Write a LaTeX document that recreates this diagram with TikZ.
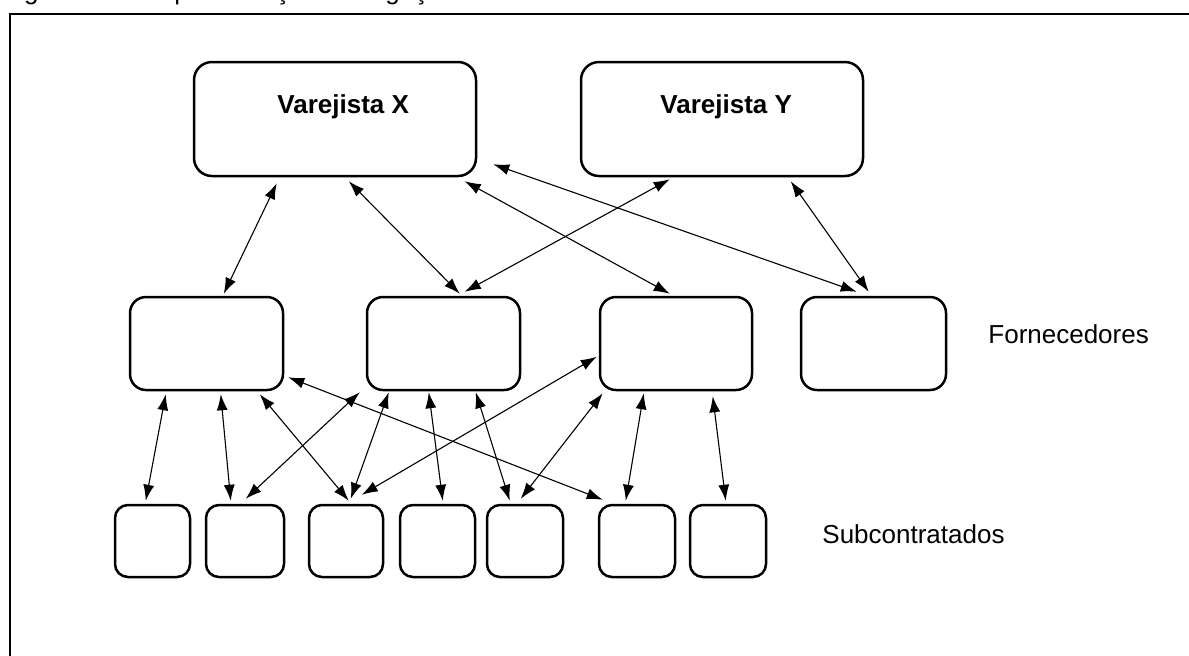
\documentclass[tikz,border=0pt]{standalone}
\usepackage{fontspec}
\setmainfont{Liberation Sans}
\usetikzlibrary{arrows.meta,calc}
\begin{document}
\begin{tikzpicture}[x=0.5pt,y=-0.5pt,
  box/.style={draw, line width=1.25pt, rounded corners=9pt, inner sep=0pt},
  fbox/.style={box, rounded corners=8pt, minimum height=46.5pt},
  sbox/.style={box, rounded corners=6.5pt, minimum height=36pt},
  link/.style={line width=0.55pt, {Latex[length=8pt,width=5.5pt]}-{Latex[length=8pt,width=5.5pt]}},
  lbl/.style={font=\fontsize{13}{15}\selectfont, anchor=base west, inner sep=0pt},
  blbl/.style={lbl, font=\fontsize{13}{15}\selectfont\bfseries}]
\useasboundingbox (0,0) rectangle (1189,655);
% caption (cut off at the top)
\node[lbl] (cap) at (2,-1) {Figura 13 – Representação das ligações da cadeia de fornecimento};
% frame
\coordinate (fbl) at (10,660);
\coordinate (ftl) at (10,14);
\coordinate (ftr) at (1195,14);
\draw[line width=1.3pt] (fbl) -- (ftl) -- (ftr);
% retailers
\node[box, minimum width=141pt, minimum height=57pt] (X) at (335,119) {};
\node[box, minimum width=141pt, minimum height=57pt] (Y) at (722,119) {};
\node[blbl] (Xt) at (277,113) {Varejista X};
\node[blbl] (Yt) at (660,113) {Varejista Y};
% suppliers
\node[fbox, minimum width=76.5pt] (F1) at (206.5,343.5) {};
\node[fbox, minimum width=76.5pt] (F2) at (443.5,343.5) {};
\node[fbox, minimum width=76pt] (F3) at (676,343.5) {};
\node[fbox, minimum width=72.5pt] (F4) at (873.5,343.5) {};
\node[lbl] (Fl) at (988,343) {Fornecedores};
% subcontractors
\node[sbox, minimum width=37.5pt] (S1) at (152.5,541) {};
\node[sbox, minimum width=39pt] (S2) at (245,541) {};
\node[sbox, minimum width=37pt] (S3) at (346,541) {};
\node[sbox, minimum width=37.5pt] (S4) at (437.5,541) {};
\node[sbox, minimum width=38pt] (S5) at (525,541) {};
\node[sbox, minimum width=38pt] (S6) at (637,541) {};
\node[sbox, minimum width=38pt] (S7) at (728,541) {};
\node[lbl] (Sl) at (822,543) {Subcontratados};
% retailer - supplier links
\draw[link] ($(X.south west)+(84,6)$) -- ($(F1.north west)+(95,-2)$);
\draw[link] ($(X.south west)+(156,4)$) -- ($(F2.north west)+(94,-2)$);
\draw[link] ($(X.south west)+(272,4)$) -- ($(F3.north west)+(71,-2)$);
\draw[link] ($(X.south east)+(16,-13)$) -- ($(F4.north west)+(57,-4)$);
\draw[link] ($(Y.south west)+(90,2)$) -- ($(F2.north west)+(99,-4)$);
\draw[link] ($(Y.south west)+(211,4)$) -- ($(F4.north west)+(69,-4)$);
% supplier - subcontractor links
\draw[link] ($(F1.south west)+(37,3)$) -- ($(S1.north west)+(32,-3)$);
\draw[link] ($(F1.south west)+(92,3)$) -- ($(S2.north west)+(26,-3)$);
\draw[link] ($(F1.south west)+(131,3)$) -- ($(S3.north west)+(41,-3)$);
\draw[link] ($(F1.south east)+(4,-14)$) -- ($(S6.north west)+(5,-4)$);
\draw[link] ($(F2.south west)+(-6,1)$) -- ($(S2.north west)+(41,-5)$);
\draw[link] ($(F2.south west)+(23,1)$) -- ($(S3.north west)+(43,-5)$);
\draw[link] ($(F2.south west)+(63,1)$) -- ($(S4.north west)+(44,-3)$);
\draw[link] ($(F2.south west)+(110,1)$) -- ($(S5.north west)+(24,-3)$);
\draw[link] ($(F3.north west)+(-2,61)$) -- ($(S3.north west)+(54,-9)$);
\draw[link] ($(F3.south west)+(4,2)$) -- ($(S5.north west)+(35,-5)$);
\draw[link] ($(F3.south west)+(45,2)$) -- ($(S6.north west)+(28,-3)$);
\draw[link] ($(F3.south west)+(114,5)$) -- ($(S7.north west)+(37,-3)$);
\end{tikzpicture}
\end{document}
